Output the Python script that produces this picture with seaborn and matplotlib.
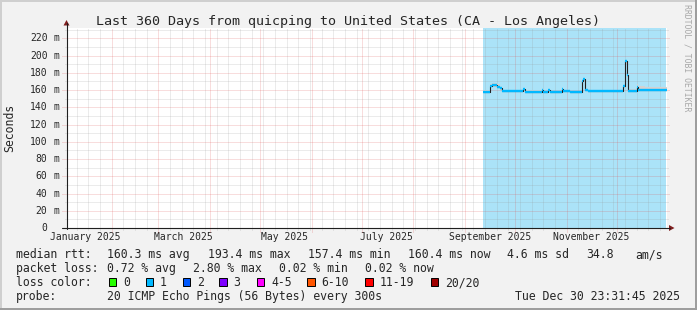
import matplotlib
matplotlib.use("Agg")
import numpy as np
import pandas as pd
import matplotlib.pyplot as plt
import matplotlib.dates as mdates
from matplotlib.patches import Rectangle, Polygon
from matplotlib.lines import Line2D
import seaborn as sns

# ---------------- data ----------------
window_start = "2025-01-04 23:31:45"
window_end = "2025-12-30 23:31:45"
coverage = ["2025-09-12 00:00:00", "2025-12-30 23:31:45"]

step_dates = ["2025-09-12", "2025-09-16", "2025-09-17", "2025-09-20", "2025-09-22",
              "2025-09-23", "2025-10-06", "2025-10-07", "2025-10-17", "2025-10-18",
              "2025-10-21", "2025-10-22", "2025-10-29", "2025-10-30", "2025-11-03",
              "2025-11-10", "2025-11-11", "2025-11-12", "2025-11-14", "2025-12-05",
              "2025-12-06", "2025-12-07", "2025-12-08", "2025-12-13", "2025-12-14",
              "2025-12-18", "2025-12-30 23:31:45"]
median_ms = [158.2, 164.5, 165.4, 164.0, 162.0,
             158.8, 161.0, 158.3, 160.5, 157.9,
             160.0, 158.0, 161.0, 158.4, 157.9,
             170.2, 172.9, 159.7, 159.0, 164.4,
             193.4, 177.0, 159.0, 163.0, 160.6,
             160.0, 160.4]
smoke_hi_ms = [159.6, 167.0, 168.2, 166.5, 163.8,
               160.2, 162.2, 159.8, 161.6, 159.4,
               161.2, 159.5, 162.0, 159.8, 159.2,
               171.2, 174.0, 161.2, 160.4, 166.0,
               195.0, 179.0, 161.8, 166.5, 164.8,
               163.5, 162.0]
smoke_lo_ms = [157.0, 163.0, 164.0, 162.5, 160.5,
               157.5, 159.5, 157.0, 159.0, 156.8,
               158.6, 156.8, 159.5, 157.2, 156.8,
               168.5, 171.0, 158.5, 157.8, 162.5,
               190.0, 175.0, 157.8, 161.5, 159.2,
               158.8, 159.2]
segment_loss_bin = [1] * (len(step_dates) - 1)

y_ticks_ms = [0, 20, 40, 60, 80, 100, 120, 140, 160, 180, 200, 220]
y_tick_numbers = ["0", "20", "40", "60", "80", "100", "120",
                  "140", "160", "180", "200", "220"]
y_tick_units = ["", "m", "m", "m", "m", "m", "m", "m", "m", "m", "m", "m"]
y_minor_ms = [10, 30, 50, 70, 90, 110, 130, 150, 170, 190, 210, 230]
y_max_ms = 232

label_months = ["2025-01-01", "2025-03-01", "2025-05-01", "2025-07-01",
                "2025-09-01", "2025-11-01"]
month_labels = ["January 2025", "March 2025", "May 2025", "July 2025",
                "September 2025", "November 2025"]

title = "Last 360 Days from quicping to United States (CA - Los Angeles)"
rtt_stats = ["160.3 ms avg", "193.4 ms max", "157.4 ms min", "160.4 ms now",
             "4.6 ms sd", "34.8", "am/s"]
loss_stats = ["0.72 % avg", "2.80 % max", "0.02 % min", "0.02 % now"]
loss_labels = ["0", "1", "2", "3", "4-5", "6-10", "11-19", "20/20"]
loss_colors = ["#26ff00", "#00b8ff", "#0059ff", "#7e00ff", "#ff00ff",
               "#ff5500", "#ff0000", "#a00000"]
probe_text = "20 ICMP Echo Pings (56 Bytes) every 300s"
stamp_text = "Tue Dec 30 23:31:45 2025"

# ---------------- layout helpers ----------------
W, H = 697, 310
sns.set_style("white")
MONO = "DejaVu Sans Mono"
plt.rcParams["font.family"] = [MONO, "DejaVu Sans"]

fig = plt.figure(figsize=(W / 100, H / 100), dpi=100)
fig.patch.set_facecolor("#f2f2f2")


def fx(px):
    return px / W


def fy(py):
    return 1 - py / H


PL, PR, PT, PB = 66.5, 666.5, 28, 228
pxw, pxh = PR - PL, PB - PT
ax = fig.add_axes([fx(PL), fy(PB), pxw / W, pxh / H])
ax.set_facecolor("white")
for s in ax.spines.values():
    s.set_visible(False)

# ---------------- data marks ----------------
df = pd.DataFrame({"date": pd.to_datetime(step_dates, format="ISO8601"),
                   "median": np.array(median_ms) / 1000.0})
sns.lineplot(data=df, x="date", y="median", drawstyle="steps-post",
             color="#202020", linewidth=0.8, ax=ax, zorder=6, legend=False)

ax.set_xlim(pd.Timestamp(window_start), pd.Timestamp(window_end))
ax.set_ylim(0, y_max_ms / 1000.0)

ax.axvspan(pd.Timestamp(coverage[0]), pd.Timestamp(coverage[1]),
           color="#abe3f8", lw=0, zorder=0.5)

ax.fill_between(df["date"], np.array(smoke_lo_ms) / 1000.0,
                np.array(smoke_hi_ms) / 1000.0, step="post",
                color="#d2d2d2", lw=0, zorder=3)

dn = mdates.date2num(df["date"])
seg_cols = [loss_colors[b] for b in segment_loss_bin]
ax.hlines(df["median"].values[:-1], dn[:-1], dn[1:], colors=seg_cols,
          lw=1.7, zorder=7)

# ---------------- grid ----------------
xt = ax.get_xaxis_transform()
yt = ax.get_yaxis_transform()
minor_c = (0.56, 0.56, 0.56, 0.34)
major_c = (0.87, 0.31, 0.31, 0.38)
dash = (0, (1, 1))
gkw = dict(lw=0.72, linestyles=[dash], clip_on=False)

ax.hlines(np.array(y_minor_ms) / 1000.0, -2 / pxw, 1 + 1 / pxw, transform=yt,
          colors=[minor_c], zorder=1, **gkw)
ax.hlines(np.array(y_ticks_ms[1:]) / 1000.0, -5 / pxw, 1 + 2 / pxw, transform=yt,
          colors=[major_c], zorder=1.1, **gkw)

t0, t1 = pd.Timestamp(window_start), pd.Timestamp(window_end)
months = pd.date_range("2025-01-01", "2025-12-31", freq="MS")
months = months[(months > t0) & (months < t1)]
weeks = pd.date_range("2025-01-01", "2025-12-31", freq="W-SAT")
weeks = weeks[(weeks > t0) & (weeks < t1) & (~weeks.isin(months))]
ax.vlines(mdates.date2num(weeks), -1.5 / pxh, 1, transform=xt, colors=[minor_c],
          zorder=1, **gkw)
ax.vlines(mdates.date2num(months), -3.5 / pxh, 1, transform=xt, colors=[major_c],
          zorder=1.1, **gkw)

# ---------------- ticks ----------------
ax.grid(False)
ax.set_yticks([])
for v, num, unit in zip(y_ticks_ms, y_tick_numbers, y_tick_units):
    ax.text(-(PL - 47.5) / pxw, v / 1000.0, num, transform=yt, ha="right",
            va="center", fontsize=7.0, family=MONO)
    if unit:
        ax.text(-(PL - 53.6) / pxw, v / 1000.0, unit, transform=yt, ha="left",
                va="center", fontsize=7.0, family=MONO)
label_pos = [pd.Timestamp(m) + pd.Timedelta(days=15) for m in label_months]
ax.set_xticks(mdates.date2num(label_pos))
ax.set_xticklabels(month_labels, fontsize=7.0, family=MONO)
ax.tick_params(axis="x", length=0, pad=3.0)
ax.set_xlabel("")
ax.set_ylabel("")

# ---------------- axes lines and arrows ----------------
axis_c = "#1f1f1f"
arrow_c = "#801f1f"
fig.add_artist(Line2D([fx(62), fx(670)], [fy(228), fy(228)], color=axis_c, lw=0.8))
fig.add_artist(Line2D([fx(66.5), fx(66.5)], [fy(228.5), fy(23)], color=axis_c, lw=0.8))
fig.add_artist(Polygon([[fx(63.5), fy(25.5)], [fx(69.5), fy(25.5)], [fx(66.5), fy(20)]],
                       closed=True, color=arrow_c, lw=0, transform=fig.transFigure))
fig.add_artist(Polygon([[fx(669), fy(225)], [fx(669), fy(231)], [fx(674.5), fy(228)]],
                       closed=True, color=arrow_c, lw=0, transform=fig.transFigure))

# ---------------- frame ----------------
shadeA, shadeB = "#cfcfcf", "#9e9e9e"
for (x0, y0, w, h, c) in [(0, 0, W, 2, shadeA), (0, 0, 2, H, shadeA),
                          (0, H - 2, W, 2, shadeB), (W - 2, 0, 2, H, shadeB)]:
    fig.add_artist(Rectangle((fx(x0), fy(y0 + h)), w / W, h / H, color=c, lw=0,
                             transform=fig.transFigure))

# ---------------- texts ----------------
fig.text(fx(348.5), fy(24.7), title, ha="center", va="baseline", fontsize=9.6, family=MONO)
fig.text(fx(10), fy(128), "Seconds", rotation=90, ha="center", va="center",
         fontsize=8.3, family=MONO)
fig.text(fx(687), fy(58), "RRDTOOL / TOBI OETIKER", rotation=270, ha="center",
         va="center", fontsize=5.9, family=MONO, color="#a8a8a8")

LF = 8.3
# line 1
b1 = 258.3
fig.text(fx(16), fy(b1), "median rtt:", fontsize=LF, va="baseline", family=MONO)
for xpos, s in zip([107.3, 207.7, 307.7, 407.7, 506.7, 586.0, 635.3], rtt_stats):
    fig.text(fx(xpos), fy(b1), s, fontsize=LF, va="baseline", family=MONO)
# line 2
b2 = 272.2
fig.text(fx(16), fy(b2), "packet loss:", fontsize=LF, va="baseline", family=MONO)
for xpos, s in zip([107.3, 193.3, 279.3, 365.3], loss_stats):
    fig.text(fx(xpos), fy(b2), s, fontsize=LF, va="baseline", family=MONO)
# line 3
b3 = 286.2
fig.text(fx(16), fy(b3), "loss color:", fontsize=LF, va="baseline", family=MONO)
box_x = [108.7, 145.7, 182.7, 219.3, 256.7, 307.0, 365.3, 430.7]
for xpos, lab, col in zip(box_x, loss_labels, loss_colors):
    fig.add_artist(Rectangle((fx(xpos), fy(b3)), 7.5 / W, 8.5 / H, facecolor=col,
                             edgecolor="black", lw=0.7, transform=fig.transFigure))
    fig.text(fx(xpos + 14.3), fy(b3), lab, fontsize=LF, va="baseline", family=MONO)
# line 4
b4 = 299.8
fig.text(fx(16), fy(b4), "probe:", fontsize=LF, va="baseline", family=MONO)
fig.text(fx(107.3), fy(b4), probe_text, fontsize=LF, va="baseline", family=MONO)
fig.text(fx(680), fy(b4), stamp_text, fontsize=LF, va="baseline", ha="right", family=MONO)

fig.savefig("out.png", dpi=100, facecolor=fig.get_facecolor())
